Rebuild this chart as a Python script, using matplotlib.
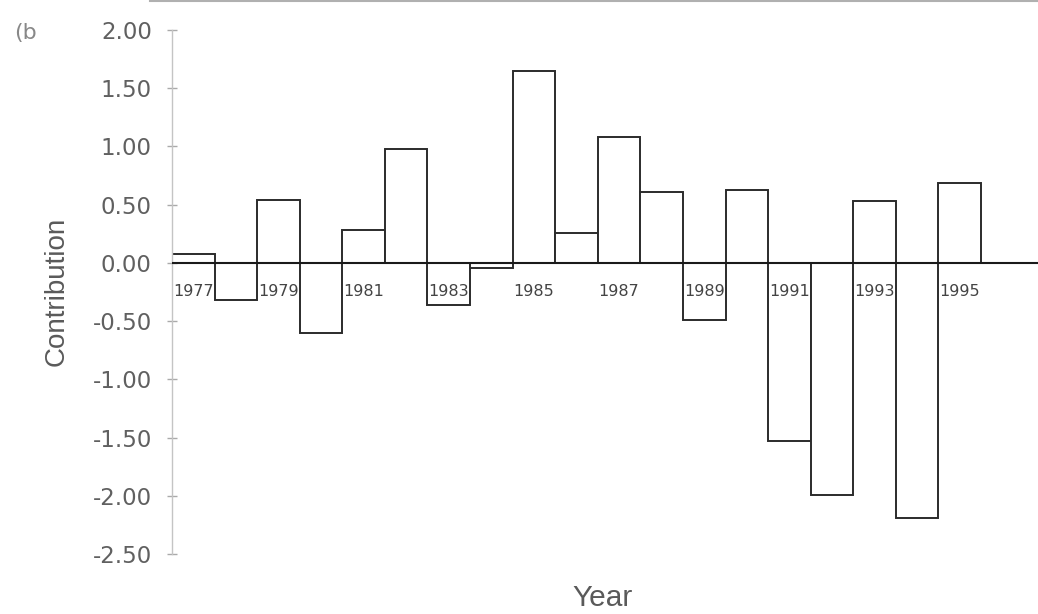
import matplotlib
matplotlib.use("Agg")
import matplotlib.pyplot as plt
import numpy as np

years = list(range(1977, 1996))
contribution = [0.08, -0.32, 0.54, -0.60, 0.28, 0.98, -0.36, -0.04, 1.65, 0.26,
                1.08, 0.61, -0.49, 0.63, -1.53, -1.99, 0.53, -2.19, 0.69]
year_labels = [str(y) for y in range(1977, 1996, 2)]
yticks = [-2.5, -2.0, -1.5, -1.0, -0.5, 0.0, 0.5, 1.0, 1.5, 2.0]
ytick_labels = ["-2.50", "-2.00", "-1.50", "-1.00", "-0.50", "0.00", "0.50", "1.00", "1.50", "2.00"]

W, H = 1038, 614
fig = plt.figure(figsize=(W / 100, H / 100), dpi=100)
fig.patch.set_facecolor("white")

ax_left, ax_right, ax_top, ax_bot = 172, 1038, 30, 554
ax = fig.add_axes([ax_left / W, 1 - ax_bot / H, (ax_right - ax_left) / W, (ax_bot - ax_top) / H])
px_per_year = 42.58
ax.set_xlim(1976.5, 1976.5 + (ax_right - ax_left) / px_per_year)
ax.set_ylim(-2.5, 2.0)

ax.bar(years, contribution, width=1.0, facecolor="white", edgecolor="#2b2b2b",
       linewidth=1.4, zorder=2)
ax.axhline(0, color="#1a1a1a", linewidth=1.5, zorder=3)

for lab in year_labels:
    ax.text(int(lab), -0.25, lab, ha="center", va="center", fontsize=11.5,
            color="#444444", family="DejaVu Sans", zorder=4)

for s in ["top", "right", "bottom"]:
    ax.spines[s].set_visible(False)
ax.spines["left"].set_color("#c4c4c4")
ax.spines["left"].set_linewidth(1.0)
ax.set_xticks([])
ax.set_yticks(yticks)
ax.set_yticklabels(ytick_labels)
ax.tick_params(axis="y", direction="inout", length=7, width=1.0, color="#aaaaaa",
               labelsize=16.5, labelcolor="#606060", pad=11)
for t in ax.get_yticklabels():
    t.set_family("DejaVu Sans")

fig.text(57 / W, 1 - 291 / H, "Contribution", rotation=90, ha="center", va="center",
         fontsize=20, color="#5a5a5a", family="Liberation Sans")
fig.text(603 / W, 1 - 598 / H, "Year", ha="center", va="center",
         fontsize=21.5, color="#5a5a5a", family="Liberation Sans")
fig.text(25 / W, 1 - 33 / H, "(b", ha="center", va="center",
         fontsize=16, color="#888888", family="DejaVu Sans")

# scan artefact line at top edge
fig.add_artist(plt.Line2D([150 / W, 1.0], [1 - 1 / H, 1 - 1 / H], transform=fig.transFigure,
                          color="#b0b0b0", linewidth=1.5))

fig.savefig("out.png", dpi=100, facecolor="white")
